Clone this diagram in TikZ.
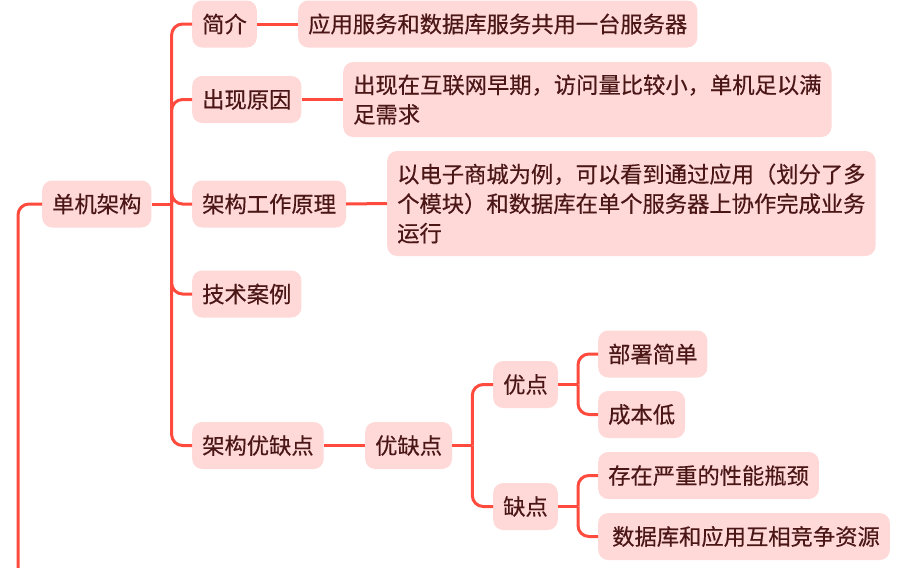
\documentclass[tikz,border=0pt]{standalone}
\usepackage{fontspec}
\usetikzlibrary{calc}
\newfontfamily\cjk[FakeBold=0.4]{Noto Sans CJK SC}
\definecolor{linecol}{HTML}{FF4B3E}
\definecolor{boxfill}{HTML}{FFD9D8}
\definecolor{txtcol}{HTML}{4A1616}
\tikzset{
  box/.style={fill=boxfill, rounded corners=10pt, inner xsep=10pt, inner ysep=0pt,
    minimum height=47pt, text=txtcol, anchor=west, align=left,
    font=\cjk\fontsize{22.3}{29.5}\selectfont},
  link/.style={draw=linecol, line width=3pt},
  branch/.style={link, rounded corners=11pt}
}
\begin{document}
\begin{tikzpicture}[x=1pt,y=-1pt]
\useasboundingbox (0,0) rectangle (914,568);
% nodes
\node[box] (root) at (42,204) {单机架构};
\node[box] (jj) at (192,24) {简介};
\node[box] (jjd) at (298,24) {应用服务和数据库服务共用一台服务器};
\node[box] (cx) at (192,99.5) {出现原因};
\node[box, minimum height=75pt] (cxd) at (343,99.5) {出现在互联网早期，访问量比较小，单机足以满\\足需求};
\node[box] (yl) at (192,204) {架构工作原理};
\node[box, minimum height=105pt] (yld) at (387,203.5) {以电子商城为例，可以看到通过应用（划分了多\\个模块）和数据库在单个服务器上协作完成业务\\运行};
\node[box] (al) at (192,294) {技术案例};
\node[box] (yq) at (192,445.5) {架构优缺点};
\node[box] (yq2) at (365,445.5) {优缺点};
\node[box] (yd) at (493,384.5) {优点};
\node[box] (qd) at (493,506.5) {缺点};
\node[box] (b1) at (598,354) {部署简单};
\node[box] (b2) at (598,414.5) {成本低};
\node[box] (b3) at (598,475.5) {存在严重的性能瓶颈};
\node[box] (b4) at (598,536.5) {\hspace{4pt}数据库和应用互相竞争资源};
% root incoming line
\coordinate (bot) at (18,568);
\draw[branch] (bot) |- (root.west);
% root children
\coordinate (t1) at ($(root.east)+(20,0)$);
\draw[link] (root.east) -- (t1);
\foreach \c in {jj,cx,yl,al,yq} \draw[branch] (t1) |- (\c.west);
% details
\draw[link] (jj.east) -- (jjd.west);
\draw[link] (cx.east) -- (cxd.west);
\draw[link] (yl.east) -- (yld.west);
\draw[link] (yq.east) -- (yq2.west);
% pros/cons
\coordinate (t2) at ($(yq2.east)+(20,0)$);
\draw[link] (yq2.east) -- (t2);
\foreach \c in {yd,qd} \draw[branch] (t2) |- (\c.west);
\coordinate (t3) at ($(yd.east)+(20,0)$);
\draw[link] (yd.east) -- (t3);
\foreach \c in {b1,b2} \draw[branch] (t3) |- (\c.west);
\coordinate (t4) at ($(qd.east)+(20,0)$);
\draw[link] (qd.east) -- (t4);
\foreach \c in {b3,b4} \draw[branch] (t4) |- (\c.west);
\end{tikzpicture}
\end{document}
